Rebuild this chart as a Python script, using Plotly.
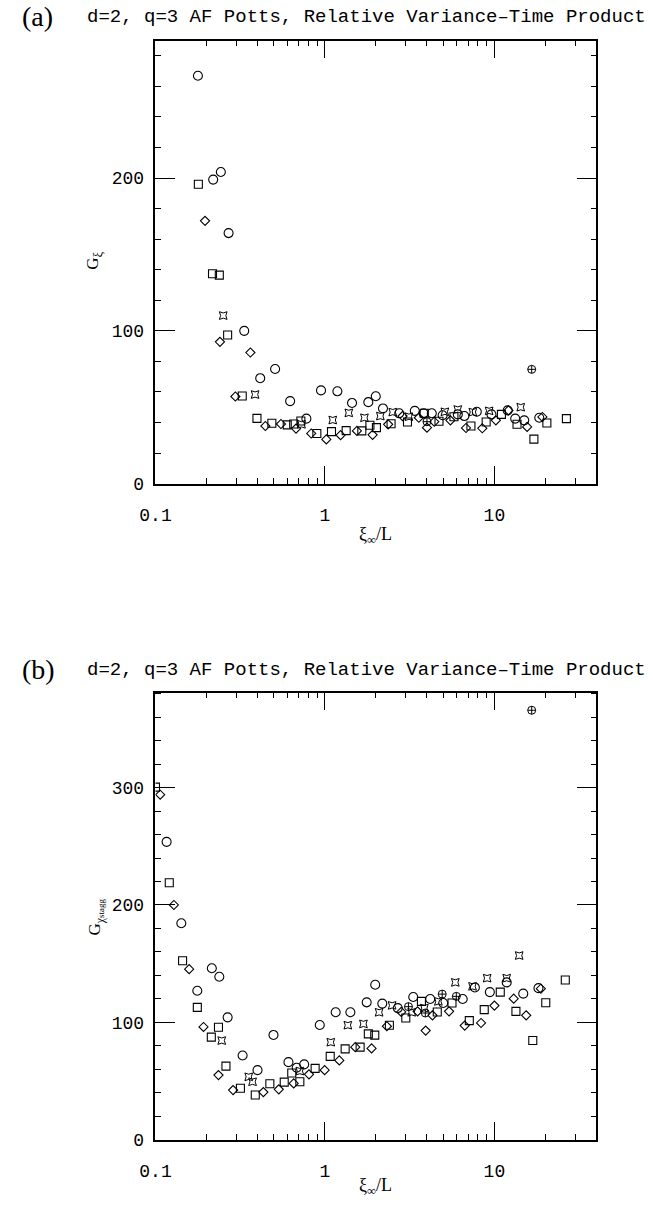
import plotly.graph_objects as go
import math

# ---------------- Panel (a): G_xi ----------------
circ_a_x = [0.178,0.219,0.243,0.270,0.334,0.415,0.508,0.623,0.777,0.948,1.184,1.445,1.803,1.995,2.20,2.743,3.39,3.82,4.27,4.95,6.08,6.65,7.87,9.61,11.98,13.27,15.0,18.4]
circ_a_y = [267,199,204,164,100,69,75,54,42.5,61,60.4,52.8,53.3,57.2,49.2,46,47.6,46,46,44.7,45.3,44.2,47,45.3,47.9,42.5,41.4,43.1]

sq_a_x = [0.179,0.217,0.238,0.2665,0.325,0.397,0.486,0.599,0.654,0.721,0.896,1.093,1.334,1.65,1.842,2.013,2.456,3.07,3.85,4.71,5.77,7.27,8.94,11.0,13.6,17.1,20.4,26.6]
sq_a_y = [196,137.4,136.5,97.3,57.3,42.7,39.5,38.4,39,41,32.8,34,34.7,34.5,38.2,36.6,39.2,40.3,46,40.8,43.8,37.7,40.3,45.3,38.8,29.1,39.7,42.5]

dia_a_x = [0.196,0.240,0.296,0.363,0.445,0.550,0.675,0.830,1.019,1.237,1.544,1.91,2.36,2.87,3.58,4.0,4.42,5.50,6.80,8.48,10.2,12.1,15.6,19.2]
dia_a_y = [172,92.8,57,85.8,37.7,39,36,32.8,28.9,31.7,34.5,31.9,38.8,44.2,43.1,36.6,40.5,41.4,36.4,36.2,41.4,47.9,37.1,43.6]

star_a_x = [0.251,0.387,0.727,1.112,1.383,1.710,2.123,2.513,3.13,5.1,6.08,7.46,9.31,14.3]
star_a_y = [110,58.3,38.8,41.6,46.3,43.1,44.2,46.8,43.8,47,48.5,46.8,47.6,50]

crs_a_x = [4.0,16.6]
crs_a_y = [40.5,74.8]

# ---------------- Panel (b): G_chi_stagg ----------------
circ_b_x = [0.1163,0.142,0.1765,0.215,0.238,0.2665,0.3266,0.400,0.497,0.609,0.681,0.754,0.932,1.157,1.413,1.763,1.98,2.18,2.69,3.32,4.18,4.99,6.50,7.67,9.40,11.82,14.8,18.2]
circ_b_y = [253.8,184.4,126.9,146.1,138.8,104.2,71.7,59.2,89.2,66,61.2,64.1,97.7,108.5,108.5,117,132,115.9,112.1,121.5,119.8,116.4,119.8,129.7,125.7,134,124.4,129.1]

sq_b_x = [0.1,0.1206,0.1445,0.1765,0.2135,0.2353,0.2605,0.317,0.388,0.473,0.575,0.637,0.711,0.875,1.074,1.316,1.613,1.803,1.968,2.40,3.0,3.71,4.60,5.62,7.11,8.71,10.83,13.4,16.85,20.1,26.2]
sq_b_y = [300.5,219,152.4,112.7,87.3,95.7,62.6,43.7,38,47.6,49,56.7,49.3,60.7,70.9,77.3,78.8,90.1,89,97.5,103.7,117.8,108.8,116.4,101.4,110.8,125.7,109.3,84.4,116.7,136]

dia_b_x = [0.1066,0.1284,0.158,0.192,0.2353,0.287,0.433,0.534,0.654,0.805,0.996,1.216,1.51,1.884,2.32,2.82,3.52,3.93,4.31,5.40,6.68,8.34,10.0,13.0,15.4,18.8]
dia_b_y = [294,200,145.3,96,55,42.2,40.5,42.8,47.9,55.6,59.2,67.5,78.8,77.7,96.6,108.8,109.3,92.9,105.9,109.3,97.2,99.4,114.2,120.1,105.9,128.6]

star_b_x = [0.246,0.355,0.374,0.711,1.083,1.365,1.687,2.087,2.49,3.25,3.86,4.67,5.88,7.43,9.06,11.82,14.0]
star_b_y = [84.4,53.5,49.3,58.4,83,97.5,98.6,108.5,114.4,108.5,112.1,117.8,134,130.6,137.6,137.6,156.9]

crs_b_x = [3.11,3.91,4.92,5.96,16.6]
crs_b_y = [113.3,107.9,124,122.1,366]

# ---------------- text ----------------
title_text = "d=2, q=3 AF Potts, Relative Variance\u2013Time Product"
x_tickvals = [0.1, 1, 10]
x_ticktext = ["0.1", "1", "10"]

W, H = 653, 1213
L_px, R_px = 143, 595
A_top, A_bot = 41, 488
B_top, B_bot = 699, 1150

def py(p):
    return 1 - p / H

fig = go.Figure()

def add_series(xs, ys, symbol, size, xa, ya, lw=1.1):
    fig.add_trace(go.Scatter(
        x=xs, y=ys, mode="markers", xaxis=xa, yaxis=ya, showlegend=False,
        marker=dict(symbol=symbol, size=size, color="black",
                    line=dict(color="black", width=lw))))

add_series(circ_a_x, circ_a_y, "circle-open", 9, "x", "y")
add_series(sq_a_x, sq_a_y, "square-open", 8, "x", "y")
add_series(dia_a_x, dia_a_y, "diamond-open", 7, "x", "y")
add_series(star_a_x, star_a_y, "star-square-open", 7, "x", "y", 1)
add_series(crs_a_x, crs_a_y, "circle-cross-open", 8, "x", "y", 1)

add_series(circ_b_x, circ_b_y, "circle-open", 9, "x2", "y2")
add_series(sq_b_x, sq_b_y, "square-open", 8, "x2", "y2")
add_series(dia_b_x, dia_b_y, "diamond-open", 7, "x2", "y2")
add_series(star_b_x, star_b_y, "star-square-open", 7, "x2", "y2", 1)
add_series(crs_b_x, crs_b_y, "circle-cross-open", 8, "x2", "y2", 1)

tickfont = dict(family="Liberation Mono", size=18, color="black")

def xaxis_cfg(ydomain_anchor):
    return dict(
        type="log", range=[-1, math.log10(40)],
        domain=[L_px / W, R_px / W], anchor=ydomain_anchor,
        tickmode="array", tickvals=x_tickvals, ticktext=x_ticktext,
        ticks="inside", ticklen=18, tickwidth=1, tickcolor="black",
        minor=dict(ticks="inside", ticklen=6, tickwidth=1, tickcolor="black",
                   dtick="D1", showgrid=False),
        showline=True, linecolor="black", linewidth=1.5, mirror="allticks",
        showgrid=False, zeroline=False, tickfont=tickfont, ticklabelstandoff=14)

def yaxis_cfg(top, bot, ymax, xanchor):
    return dict(
        range=[0, ymax], domain=[py(bot), py(top)], anchor=xanchor,
        tickmode="linear", tick0=0, dtick=100,
        ticks="inside", ticklen=20, tickwidth=1, tickcolor="black",
        minor=dict(ticks="inside", ticklen=6, tickwidth=1, tickcolor="black",
                   dtick=20, showgrid=False),
        showline=True, linecolor="black", linewidth=1.5, mirror="allticks",
        showgrid=False, zeroline=False, tickfont=tickfont, ticklabelstandoff=6)

fig.update_layout(
    width=W, height=H, margin=dict(l=0, r=0, t=0, b=0),
    paper_bgcolor="white", plot_bgcolor="white",
    xaxis=xaxis_cfg("y"),
    yaxis=yaxis_cfg(A_top, A_bot, 290, "x"),
    xaxis2=xaxis_cfg("y2"),
    yaxis2=yaxis_cfg(B_top, B_bot, 381, "x2"),
)

ann = []
serif = "Liberation Serif"
mono = "Liberation Mono"
ann.append(dict(text="(a)", x=4 / W, y=py(17), xanchor="left", yanchor="middle",
                font=dict(family=serif, size=28, color="black")))
ann.append(dict(text="(b)", x=4 / W, y=py(676), xanchor="left", yanchor="middle",
                font=dict(family=serif, size=28, color="black")))
ann.append(dict(text=title_text, x=648 / W, y=py(17), xanchor="right", yanchor="middle",
                font=dict(family=mono, size=19, color="black")))
ann.append(dict(text=title_text, x=648 / W, y=py(676), xanchor="right", yanchor="middle",
                font=dict(family=mono, size=19, color="black")))
ann.append(dict(text="G<sub>\u03be</sub>", x=80 / W, y=py(263), xanchor="center", yanchor="middle",
                textangle=-90, font=dict(family=serif, size=17, color="black")))
ann.append(dict(text="G<sub>\u03c7<span style='font-size:9px'>stagg</span></sub>", x=82 / W, y=py(925),
                xanchor="center", yanchor="middle",
                textangle=-90, font=dict(family=serif, size=17, color="black")))
for yy in (540, 1197):
    ann.append(dict(text="\u03be<sub>\u221e</sub>/L", x=(L_px + R_px) / 2 / W, y=py(yy),
                    xanchor="center", yanchor="middle",
                    font=dict(family=serif, size=18, color="black")))
for a in ann:
    a.update(xref="paper", yref="paper", showarrow=False)
fig.update_layout(annotations=ann)

fig.write_html("out.html")
